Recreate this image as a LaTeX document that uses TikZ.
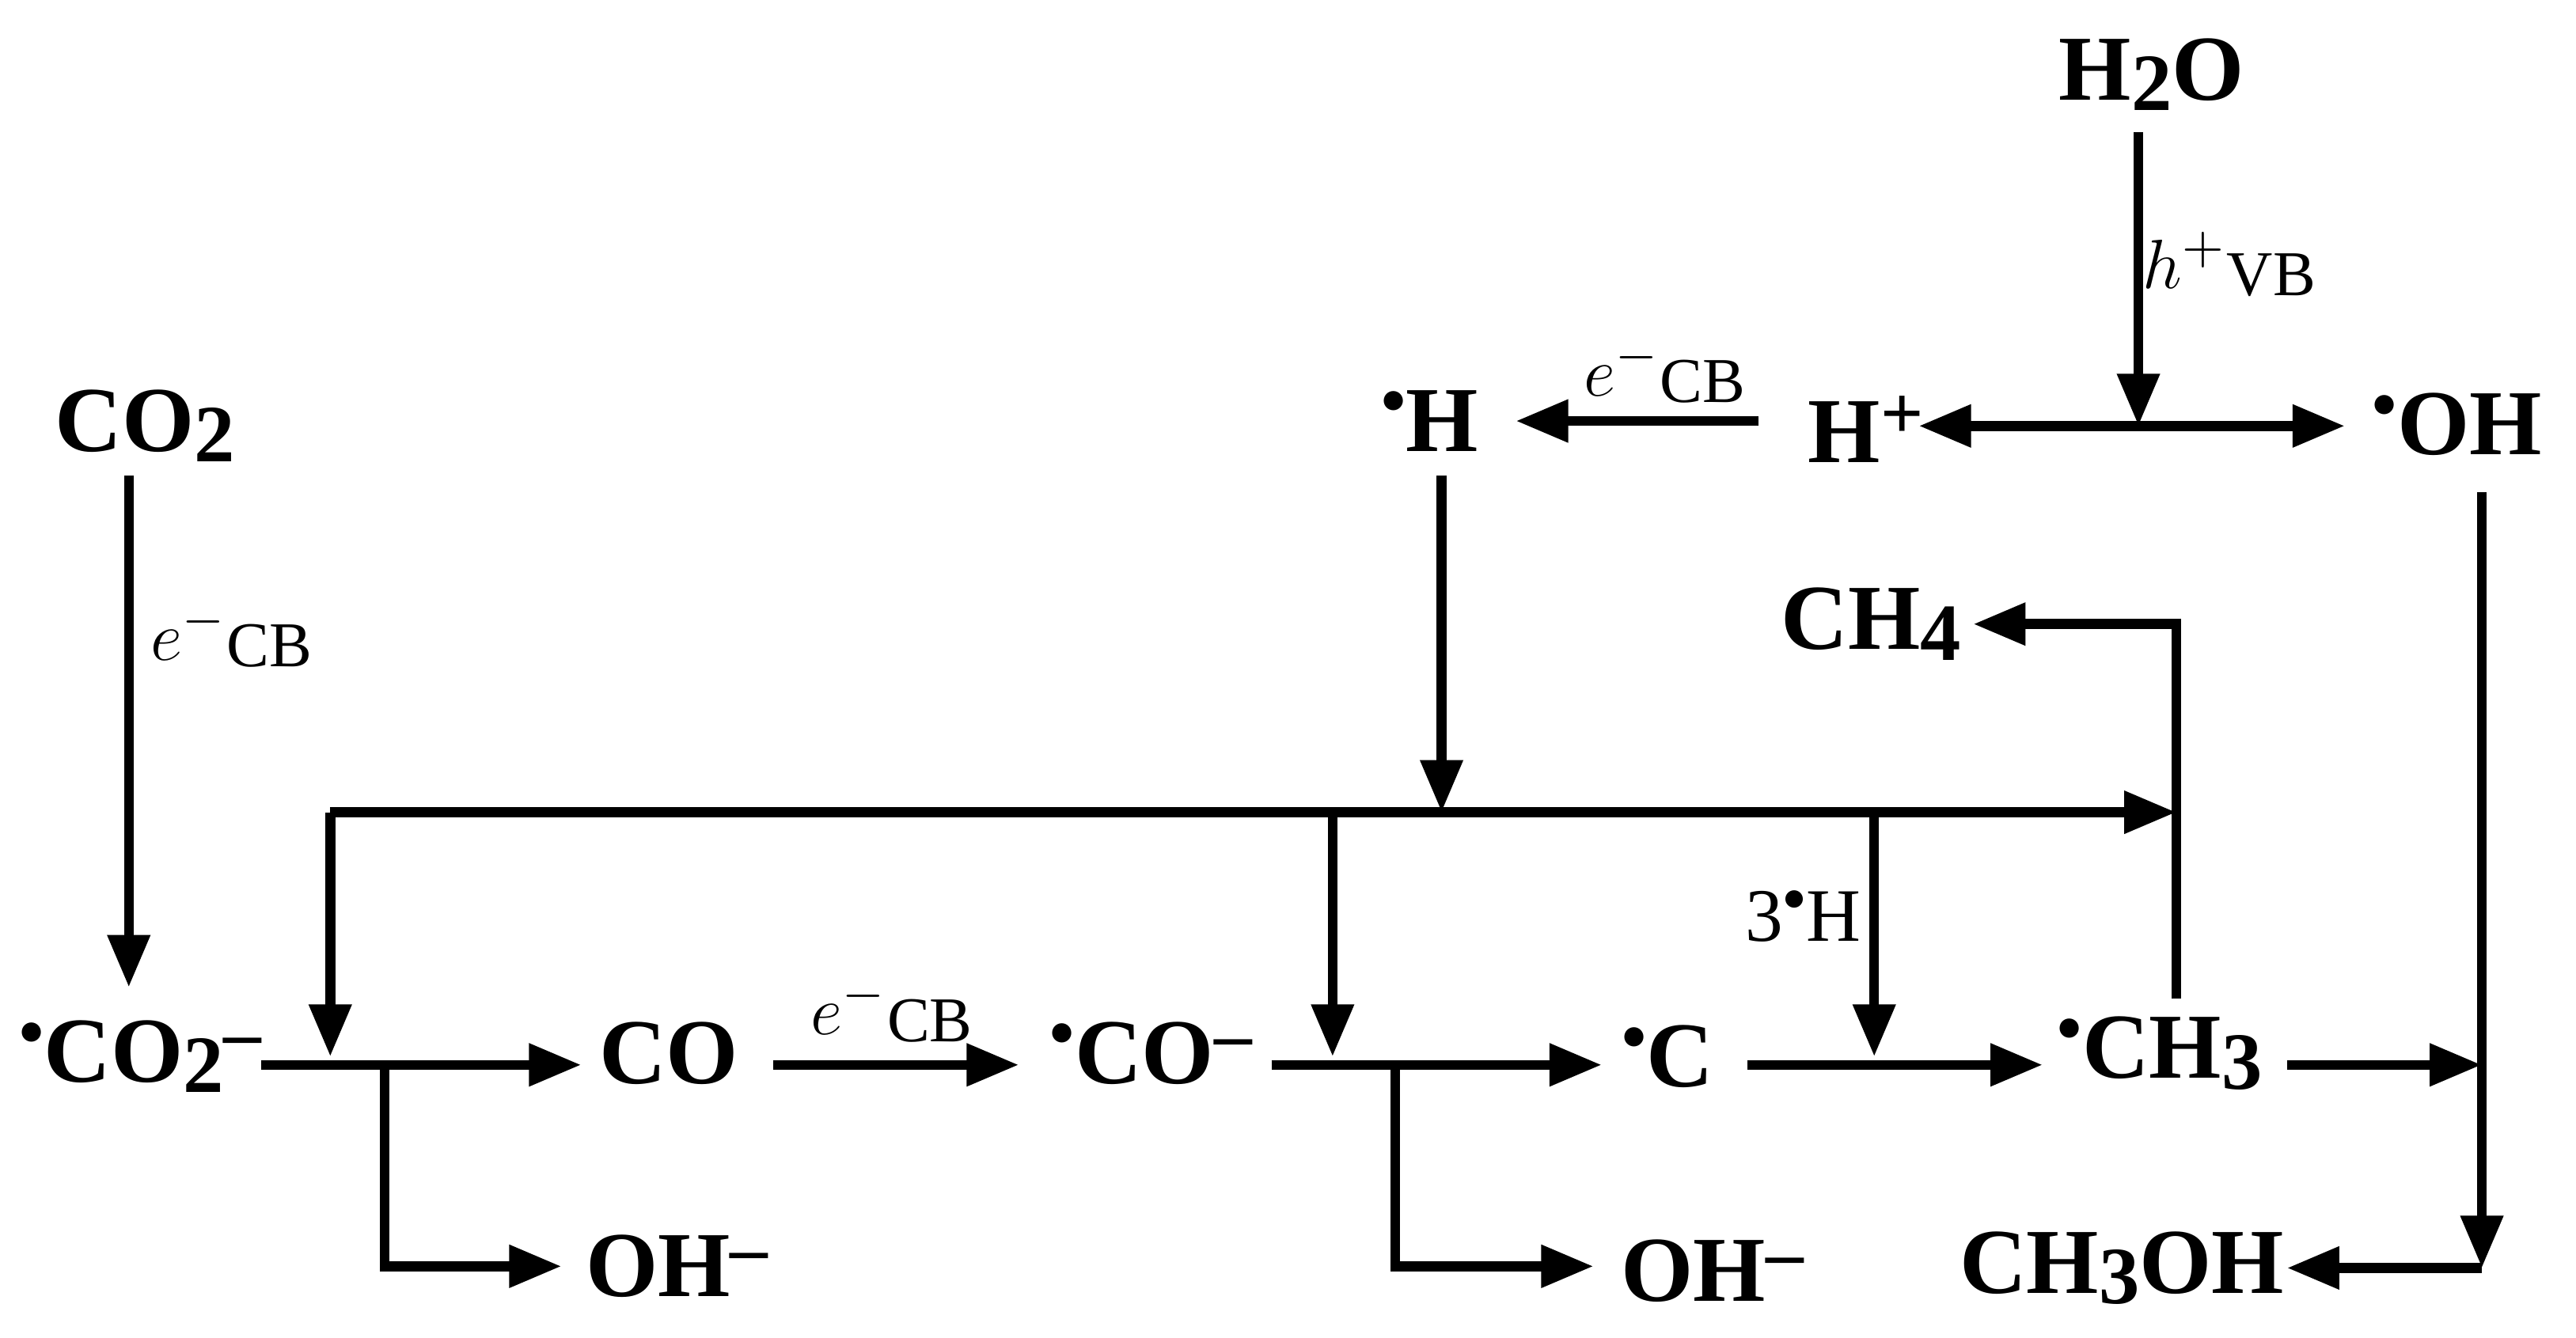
\documentclass[tikz,border=0pt]{standalone}
\usepackage{fontspec}
\setmainfont{Liberation Serif}
\usetikzlibrary{arrows.meta}
\newcommand{\sbs}[1]{\raisebox{-0.25ex}{\fontsize{14}{15}\selectfont #1}}
\newcommand{\sps}[1]{\raisebox{0.55ex}{\fontsize{13}{14}\selectfont #1}}
\newcommand{\rad}{\raisebox{0.9ex}{\fontsize{8}{8}\selectfont$\bullet$}}
\begin{document}
\begin{tikzpicture}[x=0.01cm,y=-0.01cm,
  sp/.style={font=\fontsize{16}{19}\selectfont\bfseries,inner sep=0pt},
  lb/.style={font=\fontsize{13}{15}\selectfont,inner sep=0pt},
  ar/.style={line width=1.7pt,-{Triangle[length=9pt,width=7pt]}},
  ln/.style={line width=1.7pt}]
\useasboundingbox (0,0) rectangle (1560,810);
\node[sp] (h2o) at (1303,45) {H\sbs{2}O};
\node[sp] (hp) at (1130,260) {H\sps{+}};
\node[sp] (oh) at (1488,257) {\rad OH};
\node[sp] (h) at (866,255) {\rad H};
\node[sp] (co2) at (88,258) {CO\sbs{2}};
\node[sp] (ch4) at (1133,378) {CH\sbs{4}};
\node[sp] (co2m) at (85,640) {\rad CO\sbs{2}\sps{--}};
\node[sp] (co) at (405,638) {CO};
\node[sp] (com) at (697,638) {\rad CO\sps{--}};
\node[sp] (c) at (1010,640) {\rad C};
\node[sp] (ch3) at (1308,638) {\rad CH\sbs{3}};
\node[sp] (oh1) at (410,767) {OH\sps{--}};
\node[sp] (oh2) at (1037,770) {OH\sps{--}};
\node[sp] (meoh) at (1285,768) {CH\sbs{3}OH};
% labels
\node[lb] at (1350,160) {$h^{+}$\raisebox{-0.2ex}{\fontsize{11}{12}\selectfont VB}};
\node[lb] at (1008,225) {$e^{-}$\raisebox{-0.2ex}{\fontsize{11}{12}\selectfont CB}};
\node[lb] at (140,385) {$e^{-}$\raisebox{-0.2ex}{\fontsize{11}{12}\selectfont CB}};
\node[lb] at (540,612) {$e^{-}$\raisebox{-0.2ex}{\fontsize{11}{12}\selectfont CB}};
\node[lb] at (1092,555) {3\raisebox{0.9ex}{\fontsize{7}{8}\selectfont$\bullet$}H};
% coordinates
\coordinate (j1) at (1295,258);
\coordinate (tl) at (200,492);
\coordinate (tr) at (1318,492);
\coordinate (tH) at (873,492);
\coordinate (t2) at (807,492);
\coordinate (t3) at (1135,492);
\coordinate (r1) at (1503,645);
\coordinate (r2) at (1503,768);
\coordinate (k1) at (233,645);
\coordinate (k2) at (845,645);
% arrows
\draw[ar] (1295,80) -- (j1);
\draw[ar] (j1) -- (1420,258);
\draw[ar] (j1) -- (1162,258);
\draw[ar] (1065,255) -- (918,255);
\draw[ar] (78,288) -- (78,598);
\draw[ar] (873,288) -- (tH);
\draw[ar] (tl) -- (tr);
\draw[ar] (tl) -- (200,640);
\draw[ar] (t2) -- (807,640);
\draw[ar] (t3) -- (1135,640);
\draw[ar] (1318,605) -- (1318,378) -- (1195,378);
\draw[ar] (158,645) -- (352,645);
\draw[ar] (k1) -- (233,767) -- (340,767);
\draw[ar] (468,645) -- (617,645);
\draw[ar] (770,645) -- (970,645);
\draw[ar] (k2) -- (845,767) -- (965,767);
\draw[ar] (1058,645) -- (1237,645);
\draw[ar] (1385,645) -- (r1);
\draw[ar] (1503,298) -- (r2);
\draw[ar] (r2) -- (1385,768);
\end{tikzpicture}
\end{document}
